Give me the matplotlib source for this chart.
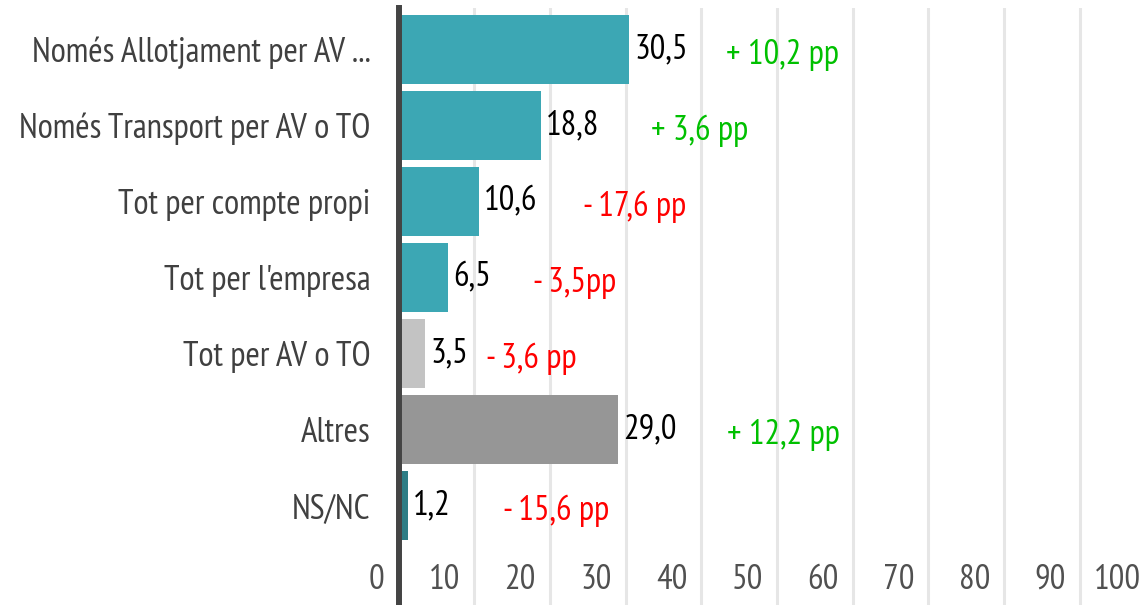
import numpy as np
import matplotlib
matplotlib.use("Agg")
import matplotlib.pyplot as plt
from matplotlib.transforms import ScaledTranslation

# data
categories = ["Només Allotjament per AV ...", "Només Transport per AV o TO",
              "Tot per compte propi", "Tot per l'empresa", "Tot per AV o TO",
              "Altres", "NS/NC"]
values = [30.5, 18.8, 10.6, 6.5, 3.5, 29.0, 1.2]
changes = ["+ 10,2 pp", "+ 3,6 pp", "- 17,6 pp", "- 3,5pp", "- 3,6 pp",
           "+ 12,2 pp", "- 15,6 pp"]
bar_colors = ["#3ca7b4", "#3ca7b4", "#3ca7b4", "#3ca7b4", "#c3c3c3",
              "#969696", "#2e7d85"]
# x position where each change note starts
change_x = [43.2, 33.3, 24.4, 17.8, 11.6, 43.4, 13.8]

plt.rcParams['font.family'] = ['PT Sans Narrow', 'DejaVu Sans']

W, H, dpi = 1141, 605, 100
fig = plt.figure(figsize=(W / dpi, H / dpi), dpi=dpi)
x0, scale = 398.5, 7.57
ax = fig.add_axes([x0 / W, 0, 100 * scale / W, (H - 8) / H])

y = np.arange(len(values))
ax.barh(y, values, height=0.9, color=bar_colors, zorder=2)
ax.set_xlim(0, 100)
ax.set_ylim((H - 49.5) / 76, -(49.5 - 8) / 76)

for yi, v in zip(y, values):
    ax.annotate(f"{v:.1f}".replace(".", ","), (v, yi), xytext=(4, 0),
                textcoords="offset points", va="center", ha="left",
                fontsize=25, color="black")
for yi, c, cx in zip(y, changes, change_x):
    col = "#00c000" if c.startswith("+") else "#ff0000"
    ax.text(cx, yi + 0.07, c, va="center", ha="left", fontsize=25, color=col)

ax.set_yticks(y)
ax.set_yticklabels(categories, fontsize=25, color="#404040")
ax.tick_params(axis="y", length=0, pad=20)
ax.set_xticks(np.arange(0, 101, 10))
ax.tick_params(axis="x", length=0, labelsize=25, labelcolor="#505050")
shift = ScaledTranslation(-14 / dpi, 46 / dpi, fig.dpi_scale_trans)
for lab in ax.get_xticklabels():
    lab.set_ha("right")
    lab.set_transform(lab.get_transform() + shift)

ax.grid(axis="x", color="#e6e6e6", linewidth=2.2, zorder=0)
ax.set_axisbelow(True)
for s in ["top", "right", "bottom"]:
    ax.spines[s].set_visible(False)
ax.spines["left"].set_color("#444444")
ax.spines["left"].set_linewidth(4.3)
ax.spines["left"].set_zorder(3)

fig.savefig("out.png", dpi=dpi)
